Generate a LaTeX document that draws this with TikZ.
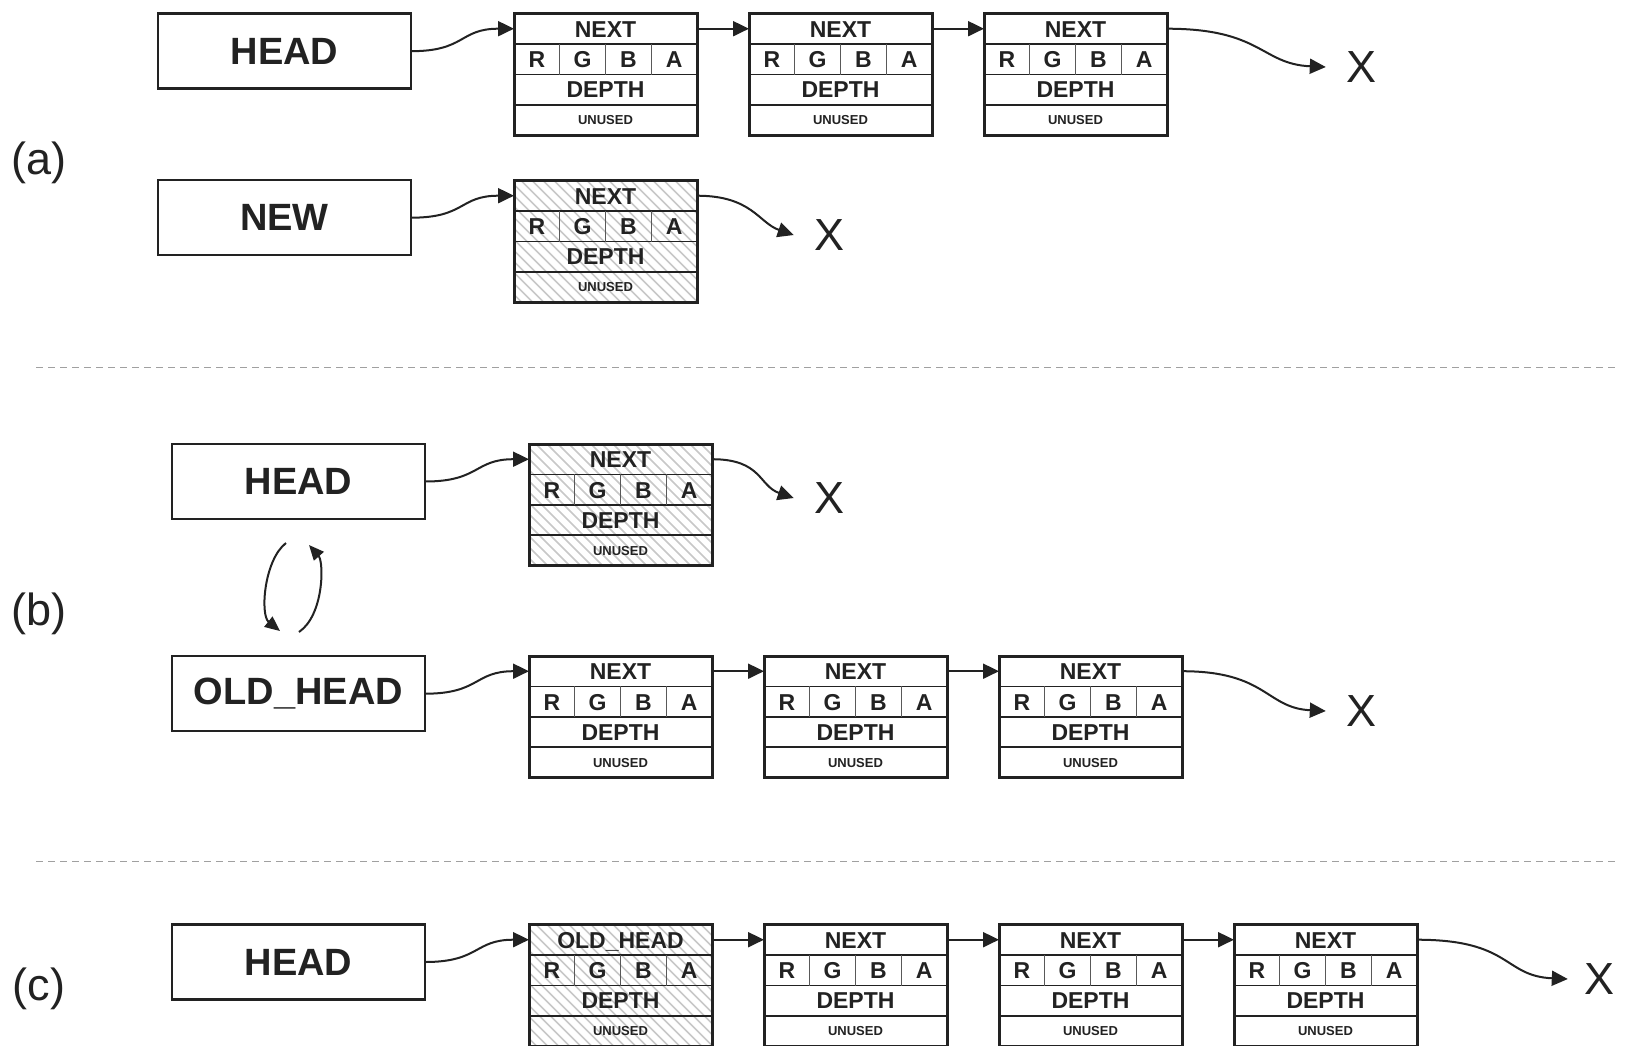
\documentclass[tikz,border=0pt]{standalone}
\usepackage{fontspec}
\setmainfont{Liberation Sans}
\usetikzlibrary{arrows.meta}
\definecolor{ink}{HTML}{222222}
\definecolor{hatchc}{HTML}{C8C8C8}
\definecolor{dashc}{HTML}{A0A0A0}
\tikzset{
 lbox/.style={minimum width=183pt, minimum height=121.5pt, inner sep=0pt, outer sep=0pt},
 boxline/.style={draw=ink, line width=3pt},
 rowline/.style={draw=ink, line width=1.8pt},
 colline/.style={draw=ink!75, line width=1pt},
 hatchline/.style={draw=hatchc, line width=1.6pt},
 lab/.style={font=\fontsize{23}{24}\selectfont\bfseries, text=ink, inner sep=0pt, anchor=base},
 smalllab/.style={font=\fontsize{13}{14}\selectfont\bfseries, text=ink, inner sep=0pt, anchor=base},
 headbox/.style={draw=ink, line width=2.5pt, minimum width=253pt, minimum height=75pt, inner sep=0pt, outer sep=0pt, font=\fontsize{38}{40}\selectfont\bfseries, text=ink},
 xlab/.style={font=\fontsize{45}{46}\selectfont, text=ink, inner sep=0pt},
 partlab/.style={font=\fontsize{45}{46}\selectfont, text=ink, inner sep=0pt},
 conn/.style={draw=ink, line width=2pt, -{Triangle[length=16pt,width=15pt]}},
 swap/.style={draw=ink, line width=2pt, -{Triangle[length=15pt,width=13pt]}},
 sep/.style={draw=dashc, line width=1.3pt, dash pattern=on 7pt off 5pt},
}
\newcommand\lnode[5]{%
  \node[lbox] (#1) at (#2,#3) {};
  \begin{scope}[shift={(#1.north west)}]
    \ifnum#5=1
      \begin{scope}
        \clip (0,0) rectangle (183,121.5);
        \foreach \k in {-125,-114,...,190} {\draw[hatchline] (\k,0) -- ++(122,122);}
      \end{scope}
    \fi
    \draw[rowline] (0,30.4) -- (183,30.4) (0,61) -- (183,61) (0,91.2) -- (183,91.2);
    \draw[colline] (45.75,30.4) -- (45.75,61) (91.5,30.4) -- (91.5,61) (137.25,30.4) -- (137.25,61);
    \draw[boxline] (0,0) rectangle (183,121.5);
    \node[lab] (#1-n) at (91.5,23.6) {#4};
    \node[lab] (#1-r) at (22.9,54) {R};
    \node[lab] (#1-g) at (68.6,54) {G};
    \node[lab] (#1-b) at (114.4,54) {B};
    \node[lab] (#1-a) at (160.1,54) {A};
    \node[lab] (#1-d) at (91.5,84.4) {DEPTH};
    \node[smalllab] (#1-u) at (91.5,111) {UNUSED};
    \coordinate (#1-in) at (0,15.2);
    \coordinate (#1-out) at (183,15.2);
  \end{scope}}
\begin{document}
\begin{tikzpicture}[x=1pt,y=-1pt]
\useasboundingbox (0,0) rectangle (1627,1045);
\clip (0,0) rectangle (1627,1045);
\fill[white] (0,0) rectangle (1627,1045);
% (a)
\node[partlab] (la) at (39,163) {(a)};
\node[headbox] (ha) at (284.5,51.2) {HEAD};
\lnode{a1}{605.5}{74.25}{NEXT}{0}
\lnode{a2}{840.5}{74.25}{NEXT}{0}
\lnode{a3}{1075.5}{74.25}{NEXT}{0}
\node[xlab] (ax) at (1361,67) {X};
\draw[conn] (ha.east) .. controls +(55,0) and +(-55,0) .. (a1-in);
\draw[conn] (a1-out) -- (a2-in);
\draw[conn] (a2-out) -- (a3-in);
\draw[conn] (a3-out) .. controls +(95,0) and +(-65,-3) .. ([xshift=-20pt]ax.west);
\node[headbox] (na) at (284.5,217.7) {NEW};
\lnode{an}{605.5}{241.25}{NEXT}{1}
\node[xlab] (anx) at (829,235) {X};
\draw[conn] (na.east) .. controls +(55,0) and +(-55,0) .. (an-in);
\draw[conn] (an-out) .. controls +(55,0) and +(-35,-12) .. ([xshift=-20pt]anx.west);
\draw[sep] (36,367.3) -- (1619,367.3);
% (b)
\node[partlab] (lb) at (39,614) {(b)};
\node[headbox] (hb) at (298.5,481.5) {HEAD};
\lnode{bt}{620.5}{504.75}{NEXT}{1}
\node[xlab] (btx) at (829,498) {X};
\draw[conn] (hb.east) .. controls +(55,0) and +(-55,0) .. (bt-in);
\draw[conn] (bt-out) .. controls +(50,0) and +(-35,-12) .. ([xshift=-20pt]btx.west);
\coordinate (s1a) at (286,543);
\coordinate (s1b) at (280,631);
\coordinate (s2a) at (299,632);
\coordinate (s2b) at (309,545);
\draw[swap] (s1a) .. controls (264,560) and (260,615) .. (s1b);
\draw[swap] (s2a) .. controls (324,615) and (324,562) .. (s2b);
\node[headbox] (ob) at (298.5,693.7) {OLD\_HEAD};
\lnode{b1}{620.5}{716.75}{NEXT}{0}
\lnode{b2}{855.5}{716.75}{NEXT}{0}
\lnode{b3}{1090.5}{716.75}{NEXT}{0}
\node[xlab] (bx) at (1361,711) {X};
\draw[conn] (ob.east) .. controls +(55,0) and +(-55,0) .. (b1-in);
\draw[conn] (b1-out) -- (b2-in);
\draw[conn] (b2-out) -- (b3-in);
\draw[conn] (b3-out) .. controls +(85,0) and +(-60,-3) .. ([xshift=-20pt]bx.west);
\draw[sep] (36,861.2) -- (1619,861.2);
% (c)
\node[partlab] (lc) at (39,989) {(c)};
\node[headbox] (hc) at (298.5,962) {HEAD};
\lnode{c1}{620.5}{985.25}{OLD\_HEAD}{1}
\lnode{c2}{855.5}{985.25}{NEXT}{0}
\lnode{c3}{1090.5}{985.25}{NEXT}{0}
\lnode{c4}{1325.5}{985.25}{NEXT}{0}
\node[xlab] (cx) at (1599,979) {X};
\draw[conn] (hc.east) .. controls +(55,0) and +(-55,0) .. (c1-in);
\draw[conn] (c1-out) -- (c2-in);
\draw[conn] (c2-out) -- (c3-in);
\draw[conn] (c3-out) -- (c4-in);
\draw[conn] (c4-out) .. controls +(95,0) and +(-65,-3) .. ([xshift=-16pt]cx.west);
\end{tikzpicture}
\end{document}
